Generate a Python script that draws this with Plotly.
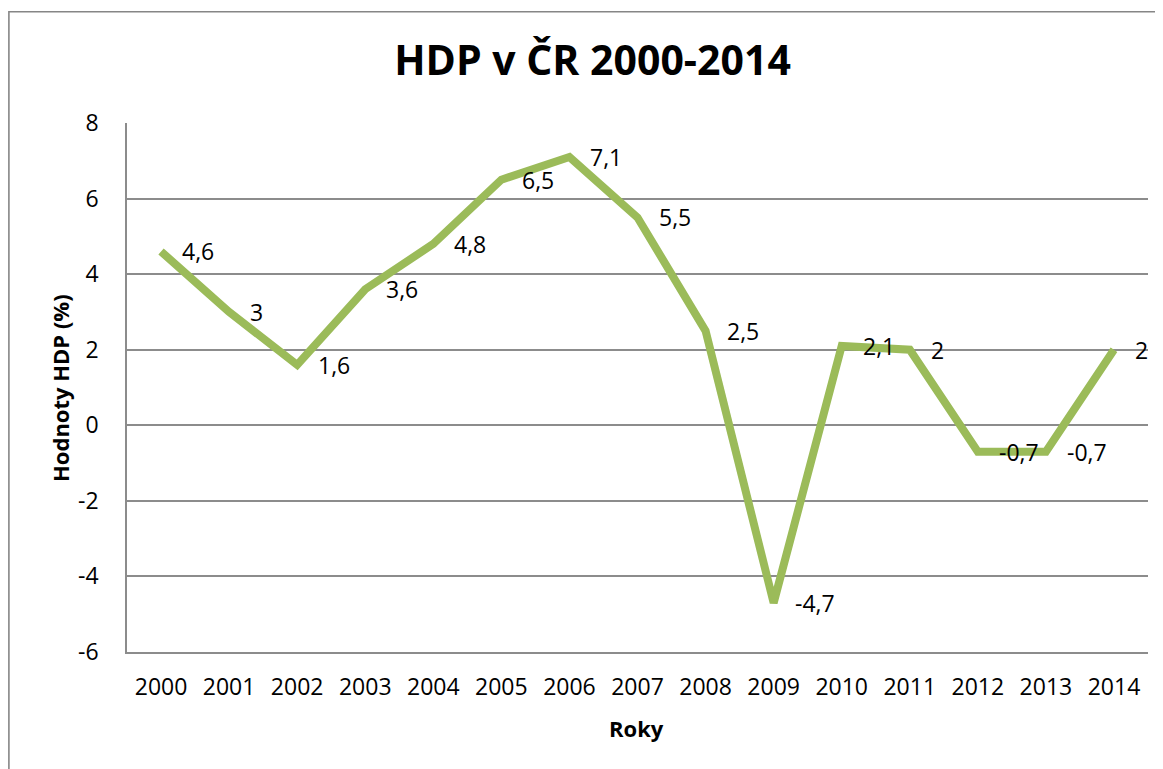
import plotly.graph_objects as go

years = ["2000", "2001", "2002", "2003", "2004", "2005", "2006", "2007",
         "2008", "2009", "2010", "2011", "2012", "2013", "2014"]
hdp = [4.6, 3.0, 1.6, 3.6, 4.8, 6.5, 7.1, 5.5, 2.5, -4.7, 2.1, 2.0, -0.7, -0.7, 2.0]
y_ticks = [-6, -4, -2, 0, 2, 4, 6, 8]

title_text = "HDP v ČR 2000-2014"
x_title = "Roky"
y_title = "Hodnoty HDP (%)"

FONT = "Open Sans"
GREEN = "#9BBB59"
GRID = "#8C8C8C"

# page body margin offset
OFF = 8
W, H = 1163 - OFF, 769 - OFF
L, R, T, B = 127 - OFF, 1148 - OFF, 122.5 - OFF, 652.5 - OFF
pw, ph = R - L, B - T


def fx(px):
    return (px - OFF - L) / pw


def fy(py):
    return (B - (py - OFF)) / ph


def fmt(v):
    return ("%g" % v).replace(".", ",")


fig = go.Figure()
fig.add_trace(go.Scatter(
    x=years, y=hdp, mode="lines",
    line=dict(color=GREEN, width=8),
    hoverinfo="skip", showlegend=False,
))

for i, v in enumerate(hdp):
    fig.add_annotation(
        x=i, y=v, xref="x", yref="y", text=fmt(v), showarrow=False,
        xanchor="left", yanchor="middle", xshift=19,
        font=dict(family=FONT, size=23, color="black"),
    )

fig.add_annotation(
    x=fx(636.5), y=fy(729), xref="paper", yref="paper", text="<b>%s</b>" % x_title,
    showarrow=False, xanchor="center", yanchor="middle",
    font=dict(family=FONT, size=22, color="black"),
)
fig.add_annotation(
    x=fx(60), y=fy(388), xref="paper", yref="paper", text="<b>%s</b>" % y_title,
    showarrow=False, xanchor="center", yanchor="middle", textangle=-90,
    font=dict(family=FONT, size=22, color="black"),
)

fig.add_shape(
    type="rect", xref="paper", yref="paper",
    x0=fx(8.9), x1=fx(1175), y0=fy(790), y1=fy(11),
    line=dict(color="#868686", width=1.6), fillcolor="rgba(0,0,0,0)", layer="below",
)

fig.update_layout(
    width=W, height=H,
    margin=dict(l=L, r=W - R, t=T, b=H - B, pad=0, autoexpand=False),
    paper_bgcolor="white", plot_bgcolor="white",
    font=dict(family=FONT, size=23, color="black"),
    title=dict(
        text="<b>%s</b>" % title_text, automargin=False,
        x=(592.5 - OFF) / W, xanchor="center", y=1 - (60.5 - OFF) / H, yanchor="middle",
        font=dict(family=FONT, size=41, color="black"),
    ),
    xaxis=dict(
        type="category", range=[-0.5, len(years) - 0.5], automargin=False,
        showgrid=False, showline=True, linecolor=GRID, linewidth=1.5,
        ticks="", tickfont=dict(family=FONT, size=23, color="black"),
        ticklabelstandoff=14, zeroline=False, fixedrange=True,
    ),
    yaxis=dict(
        range=[-6, 8], tickvals=y_ticks, ticktext=[str(t) for t in y_ticks],
        automargin=False,
        showgrid=True, gridcolor=GRID, gridwidth=1.5,
        showline=True, linecolor=GRID, linewidth=1.5,
        zeroline=False, ticks="", tickfont=dict(family=FONT, size=23, color="black"),
        ticklabelstandoff=22, fixedrange=True,
    ),
)

fig.write_html("out.html")
